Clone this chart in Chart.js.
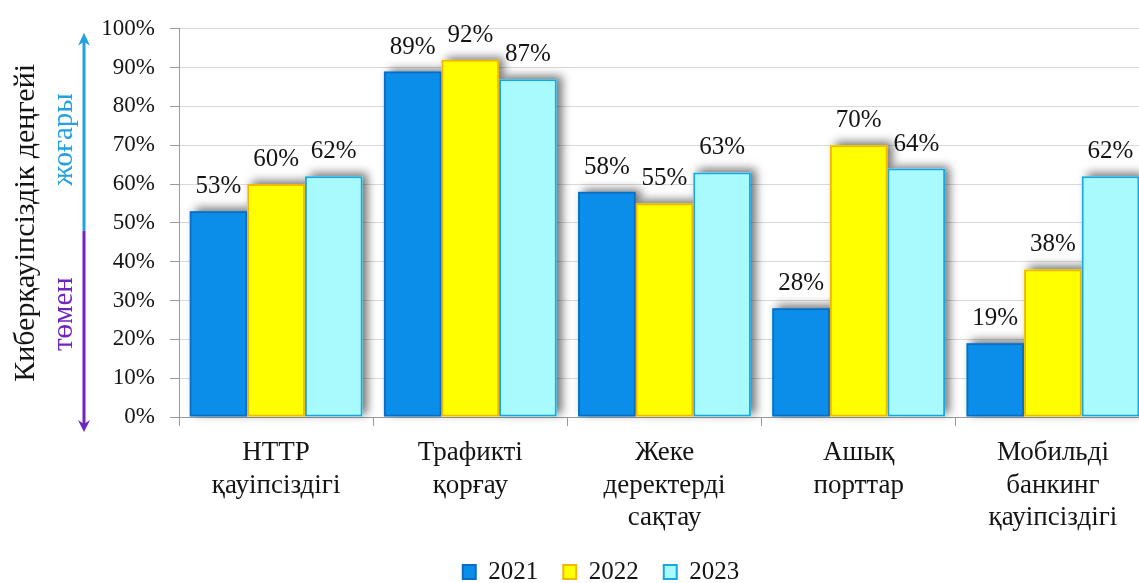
<!DOCTYPE html>
<html>
<head>
<meta charset="utf-8">
<script src="https://cdn.jsdelivr.net/npm/chart.js@4.4.1/dist/chart.umd.min.js"></script>
<style>
  html, body { margin: 0; padding: 0; background: #ffffff; overflow: hidden; }
  #wrap { width: 1200px; height: 583px; position: relative; }
</style>
</head>
<body>
<div id="wrap"><canvas id="c"></canvas></div>
<script>
const categories = [
  ['HTTP', 'қауіпсіздігі'],
  ['Трафикті', 'қорғау'],
  ['Жеке', 'деректерді', 'сақтау'],
  ['Ашық', 'порттар'],
  ['Мобильді', 'банкинг', 'қауіпсіздігі']
];
const seriesNames = ['2021', '2022', '2023'];
const values2021 = [53, 89, 58, 28, 19];
const values2022 = [60, 92, 55, 70, 38];
const values2023 = [62, 87, 63, 64, 62];
const yTicks = [0, 10, 20, 30, 40, 50, 60, 70, 80, 90, 100];
const yTitle = 'Киберқауіпсіздік деңгейі';
const upLabel = 'жоғары';
const downLabel = 'төмен';

const FONT = '"Liberation Serif", "Times New Roman", serif';

const shadowPlugin = {
  id: 'barShadow',
  beforeDatasetsDraw(chart) {
    const ctx = chart.ctx;
    chart.getSortedVisibleDatasetMetas().forEach(meta => {
      const ds = chart.data.datasets[meta.index];
      meta.data.forEach(el => {
        const p = el.getProps(['x', 'y', 'base', 'width'], true);
        ctx.save();
        ctx.shadowColor = 'rgba(0,0,0,0.55)';
        ctx.shadowBlur = 9;
        ctx.shadowOffsetX = 5;
        ctx.shadowOffsetY = -3;
        ctx.fillStyle = ds.backgroundColor;
        const top = Math.min(p.y, p.base), bot = Math.max(p.y, p.base);
        ctx.fillRect(p.x - p.width / 2, top, p.width, bot - top);
        ctx.restore();
      });
    });
  }
};

const labelPlugin = {
  id: 'valueLabels',
  afterDatasetsDraw(chart) {
    const ctx = chart.ctx;
    ctx.save();
    ctx.font = '25px ' + FONT;
    ctx.fillStyle = '#141414';
    ctx.textAlign = 'center';
    ctx.textBaseline = 'alphabetic';
    chart.data.datasets.forEach((ds, i) => {
      const meta = chart.getDatasetMeta(i);
      meta.data.forEach((el, j) => {
        ctx.fillText(ds.data[j] + '%', el.x, el.y - 18);
      });
    });
    ctx.restore();
  }
};

const arrowPlugin = {
  id: 'levelArrow',
  afterDraw(chart) {
    const ctx = chart.ctx;
    const ys = chart.scales.y;
    const x = 84;
    const yTop = ys.getPixelForValue(100) + 8;
    const yMid = ys.getPixelForValue(48);
    const yBot = ys.getPixelForValue(0) + 12;
    const blue = '#22A0E2';
    const purple = '#6E26BE';
    ctx.save();
    ctx.lineWidth = 3;
    ctx.strokeStyle = blue;
    ctx.beginPath(); ctx.moveTo(x, yTop + 4); ctx.lineTo(x, yMid); ctx.stroke();
    ctx.strokeStyle = purple;
    ctx.beginPath(); ctx.moveTo(x, yMid); ctx.lineTo(x, yBot - 4); ctx.stroke();
    ctx.fillStyle = blue;
    ctx.beginPath(); ctx.moveTo(x, yTop - 4); ctx.lineTo(x - 6, yTop + 9); ctx.lineTo(x, yTop + 5); ctx.lineTo(x + 6, yTop + 9); ctx.closePath(); ctx.fill();
    ctx.fillStyle = purple;
    ctx.beginPath(); ctx.moveTo(x, yBot + 3); ctx.lineTo(x - 6, yBot - 9); ctx.lineTo(x, yBot - 5); ctx.lineTo(x + 6, yBot - 9); ctx.closePath(); ctx.fill();
    ctx.font = '29px ' + FONT;
    ctx.textAlign = 'center';
    ctx.textBaseline = 'middle';
    ctx.translate(64, ys.getPixelForValue(71.5));
    ctx.rotate(-Math.PI / 2);
    ctx.fillStyle = blue;
    ctx.fillText(upLabel, 0, 0);
    ctx.restore();
    ctx.save();
    ctx.font = '29px ' + FONT;
    ctx.textAlign = 'center';
    ctx.textBaseline = 'middle';
    ctx.translate(64, ys.getPixelForValue(26.5));
    ctx.rotate(-Math.PI / 2);
    ctx.fillStyle = purple;
    ctx.fillText(downLabel, 0, 0);
    ctx.restore();
  }
};

const layoutTweak = {
  id: 'layoutTweak',
  afterLayout(chart) {
    const L = chart.legend;
    if (L) {
      const dx = 601 - (L.left + L.right) / 2;
      L.left += dx; L.right += dx;
      const pad = chart.options.plugins.legend.labels.padding;
      const dy = 572 - (L.top + pad + 12.5);
      L.top += dy; L.bottom += dy;
    }
    const xs = chart.scales.x;
    xs.bottom = chart.height;
    xs.height = xs.bottom - xs.top;
  }
};

new Chart(document.getElementById('c'), {
  type: 'bar',
  data: {
    labels: categories,
    datasets: [
      { label: seriesNames[0], data: values2021, backgroundColor: '#0A8EEA', borderColor: '#0B6EC4', borderWidth: 2, borderSkipped: false },
      { label: seriesNames[1], data: values2022, backgroundColor: '#FFFF00', borderColor: '#F2B705', borderWidth: 2, borderSkipped: false },
      { label: seriesNames[2], data: values2023, backgroundColor: '#A9FAFC', borderColor: '#1AA6E2', borderWidth: 2, borderSkipped: false }
    ]
  },
  options: {
    responsive: true,
    maintainAspectRatio: false,
    animation: false,
    layout: { padding: { left: 0, right: 50, top: 22, bottom: 0 } },
    datasets: { bar: { categoryPercentage: 0.89, barPercentage: 1.0 } },
    plugins: {
      legend: {
        position: 'bottom',
        labels: {
          boxWidth: 13, boxHeight: 14, padding: 25,
          color: '#141414',
          font: { family: FONT, size: 25 }
        }
      },
      tooltip: { enabled: false }
    },
    scales: {
      x: {
        grid: { display: true, drawOnChartArea: false, offset: true, color: '#9a9a9a', tickLength: 9 },
        border: { display: true, color: '#9a9a9a' },
        ticks: { color: '#141414', font: { family: FONT, size: 27, lineHeight: 1.22 }, padding: 10, maxRotation: 0, autoSkip: false },
        afterFit(s) { s.height = s.chart.height - s.chart.legend.height - 417; }
      },
      y: {
        min: 0, max: 100,
        afterBuildTicks(s) { s.ticks = yTicks.map(v => ({ value: v })); },
        grid: { color: '#d9d9d9', tickLength: 9, tickColor: '#9a9a9a' },
        border: { display: true, color: '#9a9a9a' },
        ticks: { color: '#141414', font: { family: FONT, size: 23 }, padding: 15, callback: v => v + '%' },
        title: { display: true, text: yTitle, color: '#141414', font: { family: FONT, size: 30 }, padding: { top: 8, bottom: 0 } },
        afterFit(s) { s.width = 179; }
      }
    }
  },
  plugins: [shadowPlugin, labelPlugin, arrowPlugin, layoutTweak]
});
</script>
</body>
</html>
